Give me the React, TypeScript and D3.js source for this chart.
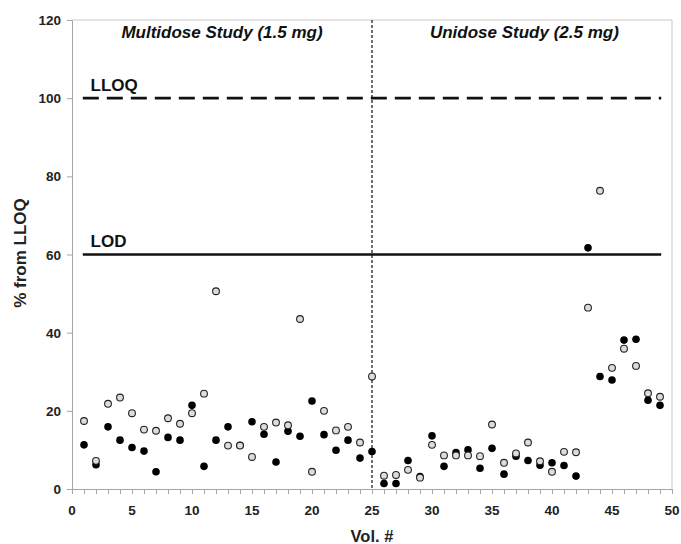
import React, { useEffect, useRef } from 'react';
import * as d3 from 'd3';

// Volunteer numbers 1..49
const volunteers = d3.range(1, 50);

// Black filled markers
const blackValues = [
  11.3, 6.2, 15.9, 12.5, 10.6, 9.7, 4.4, 13.2, 12.5, 21.4,
  5.8, 12.5, 15.9, 11.2, 17.2, 14.0, 6.9, 14.8, 13.5, 22.5,
  13.9, 9.9, 12.5, 7.9, 9.6, 1.4, 1.4, 7.3, 3.2, 13.6,
  5.8, 9.3, 10.0, 5.3, 10.4, 3.8, 8.4, 7.3, 6.1, 6.7,
  6.0, 3.3, 61.7, 28.8, 27.9, 38.1, 38.3, 22.7, 21.4
];

// Light gray open markers
const grayValues = [
  17.4, 7.2, 21.8, 23.4, 19.4, 15.2, 14.9, 18.1, 16.7, 19.4,
  24.4, 50.6, 11.1, 11.1, 8.2, 15.9, 17.0, 16.3, 43.5, 4.4,
  20.0, 15.0, 15.9, 11.9, 28.8, 3.4, 3.6, 4.9, 2.9, 11.3,
  8.6, 8.6, 8.6, 8.4, 16.5, 6.7, 9.1, 11.9, 7.1, 4.4,
  9.5, 9.4, 46.4, 76.3, 31.0, 35.9, 31.5, 24.5, 23.6
];

const xTicks = [0, 5, 10, 15, 20, 25, 30, 35, 40, 45, 50];
const yTicks = [0, 20, 40, 60, 80, 100, 120];
const limits = [
  { label: 'LLOQ', value: 100, dashed: true },
  { label: 'LOD', value: 60, dashed: false }
];
const studies = [
  { label: 'Multidose Study (1.5 mg)', center: 12.5 },
  { label: 'Unidose Study (2.5 mg)', center: 37.7 }
];
const studySplit = 25;

const App = () => {
  const svgRef = useRef<SVGSVGElement>(null);

  useEffect(() => {
    const svg = d3.select(svgRef.current);
    svg.selectAll('*').remove();

    const font = '"Liberation Sans", Arial, sans-serif';
    const axisGray = '#a6a6a6';

    const x = d3.scaleLinear().domain([0, 50]).range([72, 672]);
    const y = d3.scaleLinear().domain([0, 120]).range([489, 20]);

    // frame (top & right)
    svg.append('path')
      .attr('d', `M${x(0)},${y(120)}H${x(50)}V${y(0)}`)
      .attr('fill', 'none')
      .attr('stroke', '#c8c8c8')
      .attr('stroke-width', 1);

    // x axis with minor ticks at each volunteer
    const xAxisG = svg.append('g')
      .attr('transform', `translate(0,${y(0)})`)
      .call(d3.axisBottom(x).tickValues(d3.range(0, 51)).tickSize(5).tickFormat(() => ''));
    xAxisG.selectAll('path, line').attr('stroke', axisGray);

    svg.append('g')
      .selectAll('text')
      .data(xTicks)
      .enter().append('text')
      .attr('x', d => x(d))
      .attr('y', y(0) + 26)
      .attr('text-anchor', 'middle')
      .attr('font-family', font)
      .attr('font-weight', 'bold')
      .attr('font-size', 13.5)
      .attr('fill', '#222')
      .text(d => d);

    // y axis
    const yAxisG = svg.append('g')
      .attr('transform', `translate(${x(0)},0)`)
      .call(d3.axisLeft(y).tickValues(yTicks).tickSize(5).tickFormat(() => ''));
    yAxisG.selectAll('path, line').attr('stroke', axisGray);

    svg.append('g')
      .selectAll('text')
      .data(yTicks)
      .enter().append('text')
      .attr('x', x(0) - 11)
      .attr('y', d => y(d) + 5)
      .attr('text-anchor', 'end')
      .attr('font-family', font)
      .attr('font-weight', 'bold')
      .attr('font-size', 13.5)
      .attr('fill', '#222')
      .text(d => d);

    // axis titles
    svg.append('text')
      .attr('x', x(25))
      .attr('y', 542)
      .attr('text-anchor', 'middle')
      .attr('font-family', font)
      .attr('font-weight', 'bold')
      .attr('font-size', 16.5)
      .attr('fill', '#222')
      .text('Vol. #');

    svg.append('text')
      .attr('transform', `translate(26,253) rotate(-90)`)
      .attr('text-anchor', 'middle')
      .attr('font-family', font)
      .attr('font-weight', 'bold')
      .attr('font-size', 17)
      .attr('fill', '#222')
      .text('% from LLOQ');

    // study divider
    svg.append('line')
      .attr('x1', x(studySplit)).attr('x2', x(studySplit))
      .attr('y1', y(120)).attr('y2', y(0))
      .attr('stroke', '#222')
      .attr('stroke-width', 1.3)
      .attr('stroke-dasharray', '3,2');

    // study titles
    svg.append('g')
      .selectAll('text')
      .data(studies)
      .enter().append('text')
      .attr('x', d => x(d.center))
      .attr('y', 38)
      .attr('text-anchor', 'middle')
      .attr('font-family', font)
      .attr('font-weight', 'bold')
      .attr('font-style', 'italic')
      .attr('font-size', 17)
      .attr('fill', '#111')
      .text(d => d.label);

    // LLOQ / LOD lines
    svg.append('g')
      .selectAll('line')
      .data(limits)
      .enter().append('line')
      .attr('x1', x(0.9)).attr('x2', x(49.1))
      .attr('y1', d => y(d.value)).attr('y2', d => y(d.value))
      .attr('stroke', '#111')
      .attr('stroke-width', 2.6)
      .attr('stroke-dasharray', d => (d.dashed ? '16,8' : null));

    svg.append('g')
      .selectAll('text')
      .data(limits)
      .enter().append('text')
      .attr('x', x(1.55))
      .attr('y', d => y(d.value) - 7.5)
      .attr('font-family', font)
      .attr('font-weight', 'bold')
      .attr('font-size', 17)
      .attr('fill', '#111')
      .text(d => d.label);

    // markers
    svg.append('g')
      .selectAll('circle')
      .data(volunteers)
      .enter().append('circle')
      .attr('cx', d => x(d))
      .attr('cy', (d, i) => y(blackValues[i]))
      .attr('r', 3.8)
      .attr('fill', '#000');

    svg.append('g')
      .selectAll('circle')
      .data(volunteers)
      .enter().append('circle')
      .attr('cx', d => x(d))
      .attr('cy', (d, i) => y(grayValues[i]))
      .attr('r', 3.4)
      .attr('fill', '#dcdcdc')
      .attr('stroke', '#222')
      .attr('stroke-width', 1.1);
  }, []);

  return (
    <svg ref={svgRef} width={681} height={544} style={{ position: 'absolute', left: 0, top: 0, background: '#fff' }} />
  );
};

export default App;
